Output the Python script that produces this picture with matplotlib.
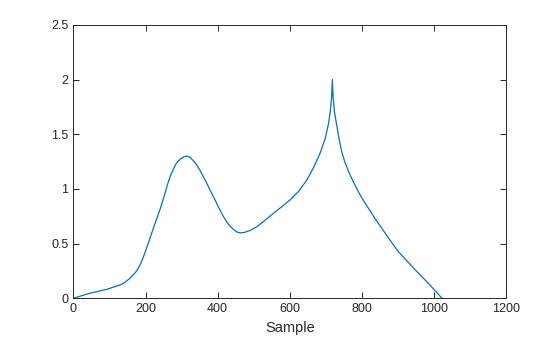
import numpy as np
import matplotlib.pyplot as plt

# values
sample = [0, 46, 93, 130, 143, 157, 165, 172, 178, 185, 192, 200, 213, 226, 240,
          254, 261, 268, 275, 282, 289, 296, 305, 314, 323, 332, 342, 351, 360,
          370, 379, 388, 397, 406, 415, 425, 434, 444, 453, 462, 475, 490, 509,
          532, 555, 578, 601, 625, 647, 665, 684, 698, 707, 712, 716, 718, 720,
          724, 730, 737, 744, 753, 763, 776, 790, 804, 818, 836, 855, 878, 901,
          925, 948, 975, 1000, 1022]
value = [0.0, 0.046, 0.082, 0.122, 0.146, 0.183, 0.21, 0.235, 0.265, 0.305, 0.36,
         0.43, 0.555, 0.68, 0.81, 0.96, 1.04, 1.11, 1.165, 1.215, 1.25, 1.272,
         1.292, 1.30, 1.29, 1.26, 1.22, 1.17, 1.115, 1.05, 0.99, 0.93, 0.87, 0.81,
         0.752, 0.70, 0.66, 0.63, 0.607, 0.597, 0.603, 0.62, 0.655, 0.715, 0.778,
         0.838, 0.90, 0.98, 1.08, 1.19, 1.327, 1.46, 1.59, 1.70, 1.84, 2.0, 1.84,
         1.70, 1.585, 1.45, 1.34, 1.24, 1.16, 1.065, 0.975, 0.895, 0.823, 0.73,
         0.64, 0.53, 0.426, 0.34, 0.259, 0.167, 0.08, 0.0]

plt.rcParams['font.family'] = ['Liberation Sans', 'DejaVu Sans']
fig = plt.figure(figsize=(5.6, 3.37), dpi=100)
ax = fig.add_axes([0.131, 0.115, 0.773, 0.811])
ax.plot(sample, value, color='#0072BD', linewidth=0.9)
ax.set_xlim(0, 1200)
ax.set_ylim(0, 2.5)
ax.set_xticks(np.arange(0, 1201, 200))
ax.set_yticks([0, 0.5, 1, 1.5, 2, 2.5])
ax.set_yticklabels(['0', '0.5', '1', '1.5', '2', '2.5'])
ax.tick_params(direction='in', top=True, right=True, length=4, width=0.7,
               colors='#262626', labelsize=9)
for s in ax.spines.values():
    s.set_color('#262626')
    s.set_linewidth(0.7)
ax.set_xlabel('Sample', fontsize=10.5, color='#262626', labelpad=4)
fig.savefig('out.png', dpi=100)
